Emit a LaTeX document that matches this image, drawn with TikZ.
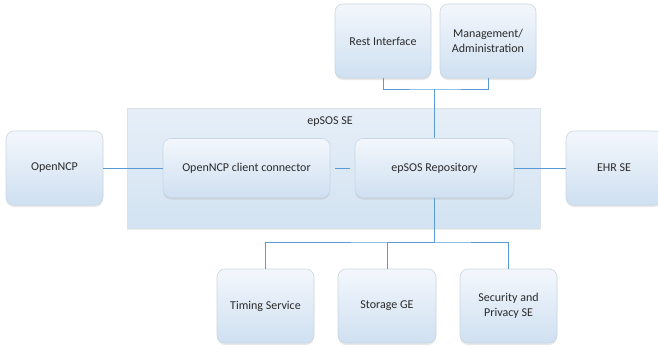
\documentclass[tikz,border=0pt]{standalone}
\usepackage{fontspec}
\setmainfont{Carlito}
\usetikzlibrary{shadows}
\definecolor{boxtop}{HTML}{F3F7FC}
\definecolor{boxbot}{HTML}{CFE0F1}
\definecolor{boxline}{HTML}{C9D6E3}
\definecolor{setop}{HTML}{E6EFF8}
\definecolor{sebot}{HTML}{D3E3F2}
\definecolor{conn}{HTML}{5B9BD5}
\definecolor{txt}{HTML}{2A2A2A}
\begin{document}
\begin{tikzpicture}[x=1pt,y=-1pt,
  every node/.style={font=\fontsize{12}{14.5}\selectfont, text=txt, align=center, inner sep=0pt},
  comp/.style={rectangle, rounded corners=8pt, draw=boxline, line width=0.6pt,
     top color=boxtop, bottom color=boxbot,
     drop shadow={opacity=0.18, shadow xshift=0pt, shadow yshift=-2pt}},
  sebox/.style={rectangle, draw=boxline!70, line width=0.6pt, top color=setop, bottom color=sebot,
     drop shadow={opacity=0.15, shadow xshift=0pt, shadow yshift=-2pt}},
  link/.style={draw=conn, line width=0.7pt}]
\useasboundingbox (0,0) rectangle (658,348);
\node[sebox, minimum width=413pt, minimum height=120pt] (se) at (333.5,168) {};
\node (selabel) at (330,122) {epSOS SE};
\node[comp, minimum width=96pt, minimum height=74pt] (rest) at (383,41) {Rest Interface};
\node[comp, minimum width=96pt, minimum height=74pt] (mgmt) at (488,41) {Management/\\Administration};
\node[comp, minimum width=167pt, minimum height=59pt] (client) at (246.5,168) {OpenNCP client connector};
\node[comp, minimum width=159pt, minimum height=59pt] (repo) at (434.5,168) {epSOS Repository};
\node[comp, minimum width=97pt, minimum height=74pt] (ncp) at (54.5,168) {OpenNCP};
\node[comp, minimum width=96pt, minimum height=74pt] (ehr) at (614,168) {EHR SE};
\node[comp, minimum width=97pt, minimum height=74pt] (timing) at (265.5,306) {Timing Service};
\node[comp, minimum width=98pt, minimum height=74pt] (storage) at (387,306) {Storage GE};
\node[comp, minimum width=97pt, minimum height=74pt] (security) at (508.5,306) {Security and\\Privacy SE};
\coordinate (jt) at (repo.north |- 0,89);
\coordinate (jb) at (repo.south |- 0,242);
\draw[link] (rest.south) |- (jt) -| (mgmt.south);
\draw[link] (jt) -- (repo.north);
\draw[link] (ncp.east) -- (client.west);
\draw[link, shorten <=5pt, shorten >=5pt] (client.east) -- (repo.west);
\draw[link] (repo.east) -- (ehr.west);
\draw[link] (repo.south) -- (jb);
\draw[link] (timing.north) |- (jb) -| (security.north);
\draw[link] (jb) -| (storage.north);
\end{tikzpicture}
\end{document}
